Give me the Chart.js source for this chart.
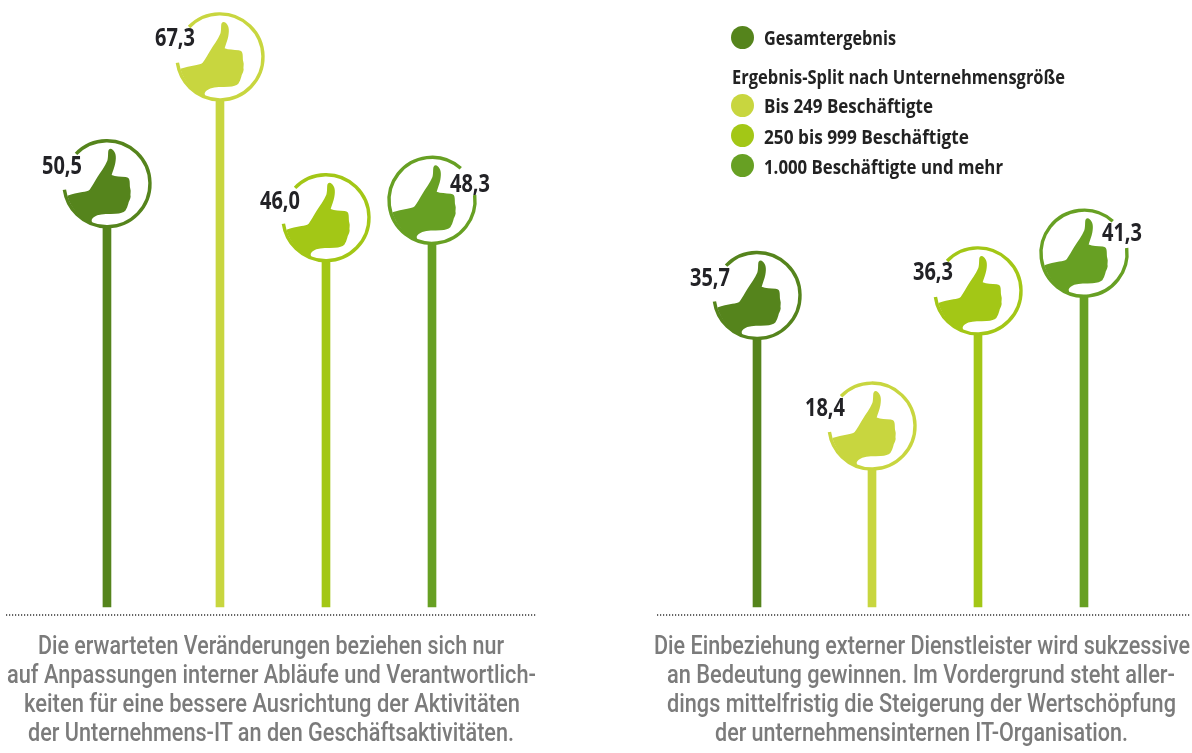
<!DOCTYPE html>
<html lang="de"><head><meta charset="utf-8">
<script src="https://cdn.jsdelivr.net/npm/chart.js@4"></script>
<style>
html,body{margin:0;padding:0;background:#fff;width:1192px;height:753px;overflow:hidden}
canvas{position:absolute;top:0}
.cap{position:absolute;font:500 25px/29px Roboto,sans-serif;color:#7b7b7b;white-space:nowrap;transform-origin:0 0}
.leg{position:absolute;font:bold 20px/24px "Open Sans",sans-serif;color:#222;white-space:nowrap;transform-origin:0 0}
.dot{position:absolute;width:23px;height:23px;border-radius:50%}
</style></head><body>
<canvas id="c1" width="596" height="753" style="left:0"></canvas>
<canvas id="c2" width="596" height="753" style="left:596px"></canvas>
<div id="legend"></div>
<div id="captions"></div>
<script>
const categories = ["Gesamtergebnis","Bis 249 Beschäftigte","250 bis 999 Beschäftigte","1.000 Beschäftigte und mehr"];
const valuesLeft = [50.5,67.3,46.0,48.3];
const valuesRight = [35.7,18.4,36.3,41.3];
const slotsLeft = [0,1.066,2.066,3.066];
const slotsRight = [0,1.085,2.085,3.085];
const labelSideLeft = ["l","l","l","r"];
const labelSideRight = ["l","l","l","r"];
const labelNudgeLeft = [[0,1],[0,0],[-1,2],[0,5]];
const labelNudgeRight = [[-2,1],[-2,1],[0,0],[0,1]];
const colors = ["#55841c","#c8d63f","#a3c716","#67a023"];
const legendTitle = "Ergebnis-Split nach Unternehmensgröße";
const captionLeft = ["Die erwarteten Veränderungen beziehen sich nur","auf Anpassungen interner Abläufe und Verantwortlich-","keiten für eine bessere Ausrichtung der Aktivitäten","der Unternehmens-IT an den Geschäftsaktivitäten."];
const captionRight = ["Die Einbeziehung externer Dienstleister wird sukzessive","an Bedeutung gewinnen. Im Vordergrund steht aller-","dings mittelfristig die Steigerung der Wertschöpfung","der unternehmensinternen IT-Organisation."];

const BASE = -5.56;
const HAND = "M30 183C45 178 60 175 75 172C85 170 92 170 97 165C105 155 112 140 120 128C130 112 143 95 150 78C154 66 151 52 154 46C157 41 162 41 166 45C175 52 178 65 174 85C172 97 166 110 163 121C175 126 190 125 205 127C214 128 216 132 217 140C218 150 217 155 219 162C222 170 218 178 220 186C219 195 214 200 213 207C211 215 208 222 204 228C198 233 190 236 175 237C155 238 135 237 120 242C112 246 105 250 103 256C103 262 106 266 110 268A125 125 0 0 1 30 183Z";
const rad = d => d*Math.PI/180;

const lollipop = {
  id:"lollipop",
  afterDatasetsDraw(chart,args,opts){
    const c = chart.ctx, bars = chart.getDatasetMeta(0).data;
    const hand = new Path2D(HAND);
    bars.forEach((b,i)=>{
      const col = colors[i], side = opts.sides[i];
      c.save();
      c.translate(b.x,b.y);
      c.fillStyle="#fff";
      c.beginPath(); c.arc(0,0,43,0,Math.PI*2); c.fill();
      c.strokeStyle=col; c.lineWidth=3.4;
      c.beginPath();
      if(side==="l") c.arc(0,0,43,rad(224),rad(172+360));
      else c.arc(0,0,43,rad(-7),rad(312));
      c.stroke();
      c.save();
      c.scale(1/3,1/3); c.translate(-149,-147);
      c.fillStyle=col; c.fill(hand);
      c.restore();
      c.fillStyle="#222226";
      c.font='bold 25px "Open Sans",sans-serif';
      c.textBaseline="middle";
      c.textAlign="left";
      const txt = opts.values[i].toFixed(1).replace(".",",");
      const k = 40/c.measureText(txt).width;
      const [nx,ny] = opts.nudge[i];
      c.translate((side==="l"?-65:18)+nx, (side==="l"?-18:-20)+ny);
      c.scale(k,1);
      c.fillText(txt,0,0);
      c.restore();
    });
    const y = chart.scales.y.getPixelForValue(BASE)+8;
    c.save();
    c.strokeStyle="#333"; c.lineWidth=1.4; c.setLineDash([1.2,1.8]);
    c.beginPath(); c.moveTo(opts.lineFrom,y); c.lineTo(opts.lineTo,y); c.stroke();
    c.restore();
  }
};

function build(id,values,slots,sides,nudge,xmin,xmax,lineFrom,lineTo){
  return new Chart(document.getElementById(id),{
    type:"bar",
    data:{labels:categories,datasets:[{
      data:values.map((v,i)=>({x:slots[i],y:v})),
      base:BASE,backgroundColor:colors,barThickness:8,borderWidth:0
    }]},
    options:{
      responsive:false,animation:false,
      layout:{padding:0},
      plugins:{legend:{display:false},tooltip:{enabled:false},
        lollipop:{values,sides,nudge,lineFrom,lineTo}},
      scales:{
        x:{type:"linear",display:false,offset:false,min:xmin,max:xmax},
        y:{type:"linear",display:false,min:-24.9,max:74.83}
      }
    },
    plugins:[lollipop]
  });
}
build("c1",valuesLeft,slotsLeft,labelSideLeft,labelNudgeLeft,-1.009,4.613,6,537);
build("c2",valuesRight,slotsRight,labelSideRight,labelNudgeRight,-1.519,4.104,61,594);

function fit(el,left,width){
  el.style.left=left+"px";
  el.style.transform=`scaleX(${width/el.getBoundingClientRect().width})`;
}
const lg = document.getElementById("legend");
function legText(txt,left,top,width){
  const t=document.createElement("div");t.className="leg";t.textContent=txt;t.style.top=top+"px";
  lg.appendChild(t);fit(t,left,width);
}
const legendRows = [[0,26,26,132],[1,94,94,169],[2,124,125,205],[3,154,155,239]];
legendRows.forEach(([i,top,textTop,w])=>{
  const d=document.createElement("div");d.className="dot";
  d.style.cssText=`left:731px;top:${top}px;background:${colors[i]}`;lg.appendChild(d);
  legText(categories[i],764,textTop,w);
});
legText(legendTitle,732,65,333);

const capBox = document.getElementById("captions");
function capLines(lines,lefts,widths){
  lines.forEach((s,i)=>{
    const t=document.createElement("div");t.className="cap";t.textContent=s;
    t.style.top=(630.5+i*29.3)+"px";capBox.appendChild(t);fit(t,lefts[i],widths[i]);
  });
}
capLines(captionLeft,[38,7,24,28],[466,529,496,486]);
capLines(captionRight,[654,667,667,715],[536,508,509,413]);
</script>
</body></html>
